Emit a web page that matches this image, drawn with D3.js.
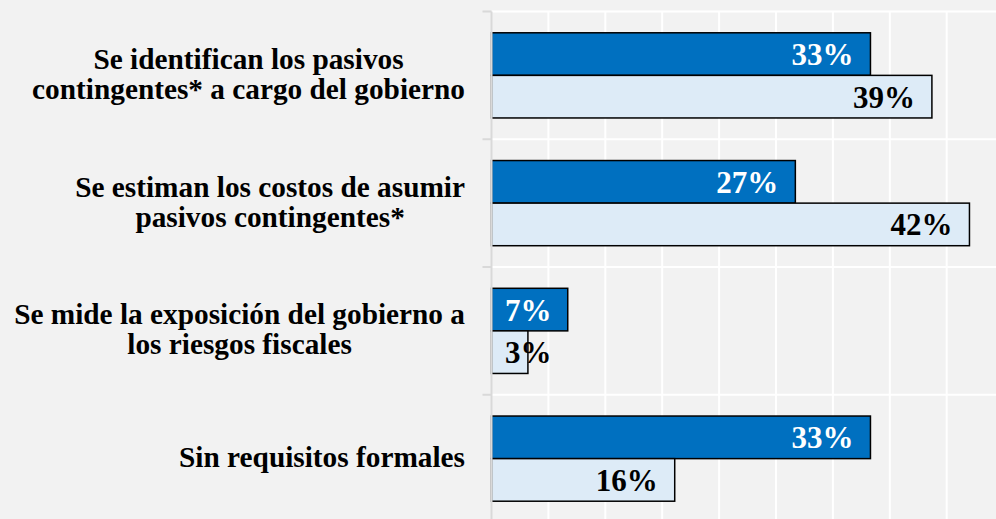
<!DOCTYPE html>
<html>
<head>
<meta charset="utf-8">
<script src="https://cdn.jsdelivr.net/npm/d3@7"></script>
<style>
  html, body { margin: 0; padding: 0; background: #f2f2f2; }
  svg { display: block; }
</style>
</head>
<body>
<svg width="996" height="519"></svg>
<script>
// categories, one entry per line of the label
var categories = [
    ["Se identifican los pasivos", "contingentes* a cargo del gobierno"],
    ["Se estiman los costos de asumir", "pasivos contingentes*"],
    ["Se mide la exposición del gobierno a", "los riesgos fiscales"],
    ["Sin requisitos formales"]
];
var seriesA = [33.3, 26.7, 6.7, 33.3];   // dark bars
var seriesB = [38.7, 42.0, 3.2, 16.1];   // light bars
var xTicks = [0, 5, 10, 15, 20, 25, 30, 35, 40, 45];

var FONT = "'Liberation Serif', 'Times New Roman', Times, serif";
var svg = d3.select("svg");
var W = 996, H = 519;
var left = 491.5;

var data = categories.map(function(c, i){
    return {key: i, lines: c, a: seriesA[i], b: seriesB[i]};
});

var x = d3.scaleLinear().domain([0, 45]).range([left, left + 45 * 11.38]);
var y = d3.scaleBand().domain(data.map(function(d){ return d.key; })).range([11.5, 522.5]).padding(0);
var y2 = d3.scaleBand().domain(["a", "b"]).range([0, y.bandwidth()]).paddingInner(0).paddingOuter(0.5);

// grid
var grid = svg.append("g");
grid.selectAll("line.v").data(xTicks.slice(1)).enter().append("line")
    .attr("x1", function(d){ return x(d); }).attr("x2", function(d){ return x(d); })
    .attr("y1", y.range()[0]).attr("y2", H)
    .attr("stroke", "#ffffff").attr("stroke-width", 2);
grid.selectAll("line.h").data(data.map(function(d){ return y(d.key); })).enter().append("line")
    .attr("x1", left).attr("x2", W)
    .attr("y1", function(d){ return d; }).attr("y2", function(d){ return d; })
    .attr("stroke", "#ffffff").attr("stroke-width", 2);

// bars
var colors = {a: "#0070c0", b: "#ddebf7"};
var groups = svg.selectAll("g.cat").data(data).enter().append("g")
    .attr("transform", function(d){ return "translate(0," + y(d.key) + ")"; });

groups.selectAll("rect").data(function(d){ return [{s: "a", v: d.a}, {s: "b", v: d.b}]; })
    .enter().append("rect")
    .attr("x", x(0))
    .attr("y", function(d){ return y2(d.s); })
    .attr("width", function(d){ return x(d.v) - x(0); })
    .attr("height", y2.bandwidth())
    .attr("fill", function(d){ return colors[d.s]; })
    .attr("stroke", "#000").attr("stroke-width", 1.5);

groups.selectAll("text.val").data(function(d){ return [{s: "a", v: d.a}, {s: "b", v: d.b}]; })
    .enter().append("text")
    .attr("x", function(d){ return Math.max(x(d.v) - 17, x(0) + 60); })
    .attr("y", function(d){ return y2(d.s) + y2.bandwidth() / 2 + 11; })
    .attr("text-anchor", "end")
    .attr("font-family", FONT).attr("font-weight", "bold")
    .attr("font-size", 31)
    .attr("fill", function(d){ return d.s == "a" ? "#ffffff" : "#000000"; })
    .text(function(d){ return Math.round(d.v) + "%"; });

// y axis line + ticks
svg.append("line").attr("x1", left).attr("x2", left).attr("y1", y.range()[0]).attr("y2", H)
    .attr("stroke", "#d9d9d9").attr("stroke-width", 2);
svg.selectAll("line.tick").data(data.map(function(d){ return y(d.key); })).enter().append("line")
    .attr("x1", left - 9).attr("x2", left)
    .attr("y1", function(d){ return d; }).attr("y2", function(d){ return d; })
    .attr("stroke", "#d9d9d9").attr("stroke-width", 2);

// category labels: lines centered together, block right aligned
var labelRight = 465, lh = 30;
groups.each(function(d){
    var g = d3.select(this);
    var t = g.append("text").attr("font-size", 29.3).attr("fill", "#000").attr("text-anchor", "middle")
        .attr("font-family", FONT).attr("font-weight", "bold");
    var n = d.lines.length;
    var spans = t.selectAll("tspan").data(d.lines).enter().append("tspan")
        .attr("y", function(l, i){ return y.bandwidth() / 2 + 8.5 + (i - (n - 1) / 2) * lh; })
        .text(function(l){ return l; });
    var maxW = 0;
    spans.each(function(){ maxW = Math.max(maxW, this.getComputedTextLength()); });
    spans.attr("x", labelRight - maxW / 2);
});
</script>
</body>
</html>
